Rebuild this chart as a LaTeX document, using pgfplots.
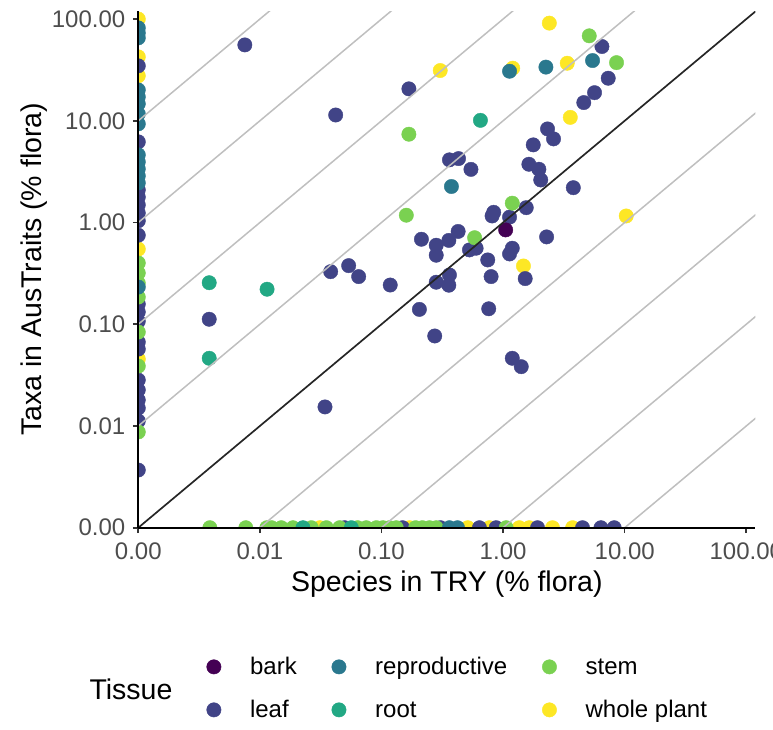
\documentclass[border=0pt]{standalone}
\usepackage{pgfplots}
\pgfplotsset{compat=1.18}
\usepackage{fontspec}
\setmainfont{Liberation Sans}
\definecolor{bark}{HTML}{440154}
\definecolor{leaf}{HTML}{414487}
\definecolor{repro}{HTML}{2A788E}
\definecolor{root}{HTML}{22A884}
\definecolor{stem}{HTML}{7AD151}
\definecolor{whole}{HTML}{FDE725}
\definecolor{ticklab}{HTML}{4D4D4D}
\pgfplotsset{
  dots/.style={color=#1, only marks, mark=*, mark size=7.2pt, forget plot},
  dotleg/.style={color=#1, only marks, mark=*, mark size=7.2pt,
    legend image code/.code={\draw[##1] plot coordinates {(0pt,2pt)};}},
  guide/.style={black!25, line width=1.5pt, forget plot},
}
\begin{document}
\begin{tikzpicture}
\path[use as bounding box] (-138.3pt,-201.3pt) rectangle (634.7pt,527.7pt);
\begin{axis}[
  at={(0pt,0pt)}, anchor=south west,
  scale only axis, width=617pt, height=516.7pt,
  xmode=log, ymode=log,
  xmin=0.001, xmax=118.6, ymin=0.001, ymax=120,
  xtick={0.001,0.01,0.1,1,10,100},
  xticklabels={0.00,0.01,0.10,1.00,10.00,100.00},
  ytick={0.001,0.01,0.1,1,10,100},
  yticklabels={0.00,0.01,0.10,1.00,10.00,100.00},
  xminorticks=false, yminorticks=false,
  axis x line=bottom, axis y line=left,
  axis line style={-, line width=1.6pt, black},
  tick align=outside, major tick length=5.5pt,
  tick style={line width=1.6pt, black!80},
  ticklabel style={font=\fontsize{24}{28}\selectfont, text=ticklab},
  xticklabel style={yshift=-6.5pt},
  yticklabel style={xshift=-4pt},
  axis on top, clip marker paths=true,
  xlabel={Species in TRY (\% flora)},
  ylabel={Taxa in AusTraits (\% flora)},
  every axis x label/.style={at={(axis description cs:0.5,-0.11)}, anchor=center,
    font=\fontsize{28.5}{34}\selectfont},
  every axis y label/.style={at={(axis description cs:-0.169,0.5)}, anchor=center, rotate=90,
    font=\fontsize{28.5}{34}\selectfont},
  legend columns=3,
  legend cell align=left,
  legend style={at={(axis description cs:0.1105,-0.3148)}, anchor=west,
    draw=none, fill=none, inner sep=0pt,
    font=\fontsize{24}{28}\selectfont,
    nodes={inner xsep=0pt, inner ysep=0pt, text height=17pt, text depth=5pt},
    /tikz/row sep=21pt,
    /tikz/every odd column/.append style={column sep=29pt},
    /tikz/every even column/.append style={column sep=35pt}},
]
% whole plant
\addplot[dots=whole] coordinates {
 (2.40,91.2) (3.37,36.8) (1.20,32.9) (0.304,31.2) (3.57,10.8) (10.3,1.16) (1.47,0.374)
 (0.001,100) (0.001,42.5) (0.001,27.7) (0.001,0.548) (0.001,0.0455)
 (0.0311,0.001) (0.170,0.001) (0.512,0.001) (0.772,0.001) (1.36,0.001) (1.64,0.001) (2.55,0.001) (3.73,0.001)
};
% leaf
\addplot[dots=leaf] coordinates {
 (6.50,53.7) (0.168,20.6) (7.32,26.2) (5.65,18.9) (4.61,15.1) (2.32,8.32) (2.60,6.64) (1.77,5.80)
 (0.362,4.13) (0.430,4.25) (0.544,3.33) (1.63,3.74) (1.97,3.34) (2.04,2.62) (3.78,2.20) (1.55,1.40)
 (0.837,1.26) (0.812,1.16) (1.13,1.13) (2.28,0.722) (0.213,0.685) (0.427,0.817) (0.358,0.667)
 (0.282,0.598) (0.282,0.477) (0.529,0.538) (0.600,0.559) (1.19,0.559) (1.13,0.491) (0.748,0.429)
 (1.52,0.281) (0.797,0.294) (0.362,0.305) (0.282,0.259) (0.358,0.242) (0.118,0.243) (0.205,0.140)
 (0.762,0.142) (0.274,0.0767) (1.19,0.0463) (1.41,0.0383) (0.0382,0.329) (0.0537,0.377)
 (0.0649,0.294) (0.0343,0.0154) (0.00383,0.112) (0.00752,55.7) (0.0420,11.4)
 (0.001,34.7) (0.001,6.21) (0.001,2.09) (0.001,1.78) (0.001,1.49) (0.001,1.24) (0.001,1.04) (0.001,0.75)
 (0.001,0.158) (0.001,0.132) (0.001,0.107) (0.001,0.0668) (0.001,0.057) (0.001,0.0283) (0.001,0.0226)
 (0.001,0.018) (0.001,0.015) (0.001,0.0112) (0.001,0.00369)
 (0.0498,0.001) (0.149,0.001) (0.306,0.001) (0.639,0.001) (0.877,0.001) (1.92,0.001) (4.50,0.001)
 (6.38,0.001) (8.20,0.001)
};
% bark
\addplot[dots=bark] coordinates {(1.05,0.846)};
% stem
\addplot[dots=stem] coordinates {
 (5.11,68.4) (8.57,37.3) (0.168,7.38) (1.19,1.55) (0.160,1.18) (0.583,0.709)
 (0.001,0.400) (0.001,0.319) (0.001,0.254) (0.001,0.185) (0.001,0.0838) (0.001,0.0388) (0.001,0.00873)
 (0.00388,0.001) (0.00766,0.001) (0.0114,0.001) (0.0125,0.001) (0.0150,0.001) (0.0187,0.001)
 (0.0265,0.001) (0.0352,0.001) (0.0453,0.001) (0.0637,0.001) (0.0750,0.001) (0.0907,0.001)
 (0.1026,0.001) (0.1165,0.001) (0.1323,0.001) (0.191,0.001) (0.217,0.001) (0.248,0.001)
 (0.282,0.001) (1.06,0.001)
};
% root
\addplot[dots=root] coordinates {
 (0.651,10.1) (0.01146,0.221) (0.00383,0.256) (0.00383,0.0463)
 (0.0226,0.001) (0.0565,0.001)
};
% reproductive
\addplot[dots=repro] coordinates {
 (5.44,39.1) (2.25,33.7) (1.13,30.7) (0.376,2.26)
 (0.001,81.9) (0.001,73) (0.001,65.3) (0.001,20.1) (0.001,17.2) (0.001,14.7) (0.001,11.7)
 (0.001,9.33) (0.001,4.63) (0.001,3.95) (0.001,3.37) (0.001,2.87) (0.001,2.45) (0.001,0.232)
 (0.362,0.001) (0.422,0.001)
};
% reference lines y = 10^k x
\addplot[guide] coordinates {(0.001,10) (1,10000)};
\addplot[guide] coordinates {(0.001,1) (1,1000)};
\addplot[guide] coordinates {(0.001,0.1) (10,1000)};
\addplot[guide] coordinates {(0.001,0.01) (100,1000)};
\addplot[guide] coordinates {(0.01,0.001) (1000,100)};
\addplot[guide] coordinates {(0.1,0.001) (1000,10)};
\addplot[guide] coordinates {(1,0.001) (1000,1)};
\addplot[guide] coordinates {(10,0.001) (1000,0.1)};
\addplot[black!85, line width=1.7pt, forget plot] coordinates {(0.001,0.001) (1000,1000)};
% legend
\addlegendimage{dotleg=bark}\addlegendentry{bark}
\addlegendimage{dotleg=repro}\addlegendentry{reproductive}
\addlegendimage{dotleg=stem}\addlegendentry{stem}
\addlegendimage{dotleg=leaf}\addlegendentry{leaf}
\addlegendimage{dotleg=root}\addlegendentry{root}
\addlegendimage{dotleg=whole}\addlegendentry{whole plant}
\end{axis}
\node[font=\fontsize{28.5}{34}\selectfont, anchor=center] at (-7.3pt,-161.6pt) {Tissue};
\end{tikzpicture}
\end{document}
